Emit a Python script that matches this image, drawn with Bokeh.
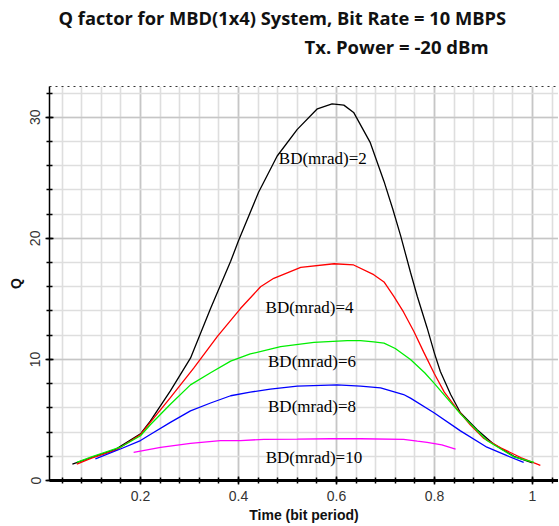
from bokeh.plotting import figure
from bokeh.models import (Range1d, LinearAxis, SingleIntervalTicker, FixedTicker,
                          NumeralTickFormatter, Title, ColumnDataSource)
from bokeh.core.properties import value
from bokeh.embed import file_html
from bokeh.resources import INLINE

# ---- data ----
bd2_x = [0.061, 0.10, 0.15, 0.20, 0.22, 0.261, 0.302, 0.343, 0.384, 0.40, 0.441,
         0.479, 0.52, 0.561, 0.591, 0.615, 0.635, 0.669, 0.697, 0.715, 0.731, 0.751,
         0.765, 0.785, 0.80, 0.812, 0.833, 0.853, 0.887, 0.921, 0.962, 1.0]
bd2_y = [1.35, 1.9, 2.6, 3.85, 4.9, 7.4, 10.1, 14.2, 18.1, 19.8, 23.8,
         26.8, 29.0, 30.7, 31.1, 31.0, 30.4, 27.9, 24.7, 22.4, 20.2, 17.2,
         15.2, 12.6, 10.5, 9.0, 7.1, 5.6, 4.2, 3.0, 2.0, 1.45]

bd4_x = [0.07, 0.10, 0.15, 0.20, 0.22, 0.261, 0.309, 0.357, 0.404, 0.445,
         0.472, 0.527, 0.595, 0.635, 0.676, 0.697, 0.717, 0.737,
         0.758, 0.778, 0.80, 0.82, 0.846, 0.873, 0.90, 0.935, 0.976, 1.016]
bd4_y = [1.35, 1.85, 2.5, 3.8, 4.8, 6.85, 9.3, 11.9, 14.2, 16.0,
         16.7, 17.6, 17.9, 17.8, 17.0, 16.4, 15.2, 13.9,
         12.3, 10.6, 8.8, 7.3, 5.9, 4.6, 3.5, 2.7, 1.9, 1.25]

bd6_x = [0.07, 0.10, 0.159, 0.20, 0.22, 0.261, 0.302, 0.343, 0.384, 0.424, 0.465, 0.486,
         0.554, 0.622, 0.649, 0.676, 0.697, 0.72, 0.751, 0.78, 0.80, 0.853, 0.907,
         0.962, 1.003]
bd6_y = [1.5, 1.95, 2.75, 3.7, 4.6, 6.3, 7.9, 8.9, 9.86, 10.45, 10.85, 11.05,
         11.4, 11.55, 11.55, 11.45, 11.35, 10.9, 10.0, 8.9, 8.0, 5.5, 3.3,
         1.95, 1.5]

bd8_x = [0.108, 0.159, 0.20, 0.22, 0.261, 0.302, 0.343, 0.384, 0.424, 0.465, 0.52,
         0.601, 0.649, 0.69, 0.737, 0.751, 0.799, 0.853, 0.907, 0.948, 0.982]
bd8_y = [1.78, 2.6, 3.3, 3.8, 4.8, 5.75, 6.4, 7.0, 7.3, 7.55, 7.8,
         7.9, 7.8, 7.65, 7.1, 6.8, 5.6, 4.1, 2.75, 2.05, 1.5]

bd10_x = [0.186, 0.241, 0.302, 0.363, 0.404, 0.452, 0.52, 0.588, 0.649, 0.737, 0.765,
          0.785, 0.815, 0.843]
bd10_y = [2.33, 2.74, 3.07, 3.3, 3.3, 3.4, 3.42, 3.45, 3.45, 3.4, 3.25,
          3.15, 2.95, 2.6]

series_names = ["BD(mrad)=2", "BD(mrad)=4", "BD(mrad)=6", "BD(mrad)=8", "BD(mrad)=10"]
series_colors = ["#000000", "#ff0000", "#00ee00", "#0000ff", "#ff00ff"]
label_x = [0.572, 0.545, 0.55, 0.55, 0.554]
label_y = [26.6, 14.3, 9.86, 6.08, 1.92]

title_line1 = "Q factor for MBD(1x4) System, Bit Rate = 10 MBPS"
title_line2 = "Tx. Power = -20 dBm"
x_label = "Time (bit period)"
y_label = "Q"

# ---- figure ----
p = figure(width=558, height=526, output_backend="svg", toolbar_location=None,
           x_range=Range1d(0.0143, 1.0531), y_range=Range1d(0, 32.54),
           x_axis_label=x_label, y_axis_label=y_label,
           min_border_left=49, min_border_right=0, min_border_top=0, min_border_bottom=46)
p.background_fill_color = "white"
p.border_fill_color = "white"
p.outline_line_color = None

# dotted top border (closest to the frame), a blank spacer, then the two title lines
top_axis = LinearAxis(ticker=FixedTicker(ticks=[]), axis_line_dash="dotted",
                      axis_line_color="#333333", axis_line_width=1.2,
                      major_label_text_font_size="0px", major_tick_out=0, major_tick_in=0,
                      minor_tick_out=0, minor_tick_in=0, major_label_standoff=0,
                      axis_label_standoff=0)
p.add_layout(top_axis, "above")
spacer = Title(text=" ", text_font="Open Sans", text_font_size="10px", standoff=12)
p.add_layout(spacer, "above")
t2 = Title(text=title_line2, align="left", offset=255, text_font="Open Sans",
           text_font_size="18.5px", text_font_style="bold", text_color="#111111",
           standoff=0)
t1 = Title(text=title_line1, align="left", offset=9, text_font="Open Sans",
           text_font_size="18.3px", text_font_style="bold", text_color="#111111",
           standoff=4)
p.add_layout(t2, "above")
p.add_layout(t1, "above")

bottom_axis = p.below[0]
left_axis = p.left[0]

xt = SingleIntervalTicker(interval=0.2, num_minor_ticks=5)
yt = SingleIntervalTicker(interval=10, num_minor_ticks=5)
bottom_axis.ticker = xt
left_axis.ticker = yt
p.xgrid.ticker = xt
p.ygrid.ticker = yt
bottom_axis.formatter = NumeralTickFormatter(format="0.[0]")

for g in (p.xgrid, p.ygrid):
    g.grid_line_color = "#c6c6c6"
    g.grid_line_width = 1.6
    g.minor_grid_line_color = "#dedede"
    g.minor_grid_line_width = 1.6

for ax in (bottom_axis, left_axis):
    ax.axis_line_color = "black"
    ax.major_tick_line_color = "black"
    ax.minor_tick_line_color = "black"
    ax.major_tick_in = 4
    ax.major_tick_out = 4
    ax.minor_tick_in = 3
    ax.minor_tick_out = 3
    ax.major_tick_line_width = 1.5
    ax.minor_tick_line_width = 1.5
    ax.major_label_text_font = "Liberation Sans"
    ax.major_label_text_font_size = "14px"
    ax.major_label_text_color = "#333333"
    ax.axis_label_text_font = "Liberation Sans"
    ax.axis_label_text_font_style = "bold"
    ax.axis_label_text_font_size = "14px"
    ax.axis_label_text_color = "#111111"

bottom_axis.axis_line_width = 3
left_axis.axis_line_width = 1.5
bottom_axis.major_label_standoff = 6
bottom_axis.axis_label_standoff = 3
left_axis.major_label_orientation = "vertical"
left_axis.major_label_standoff = 5
left_axis.axis_label_standoff = 4

xs = [bd2_x, bd4_x, bd6_x, bd8_x, bd10_x]
ys = [bd2_y, bd4_y, bd6_y, bd8_y, bd10_y]
for x, y, c in zip(xs, ys, series_colors):
    p.line(x, y, line_color=c, line_width=1.3)

src = ColumnDataSource(dict(x=label_x, y=label_y, t=series_names))
p.text(x="x", y="y", text="t", source=src, text_font=value("Liberation Serif"),
       text_font_size="17px", text_color="#000000", text_align="center",
       text_baseline="middle")

open("out.html", "w").write(file_html(p, INLINE))
